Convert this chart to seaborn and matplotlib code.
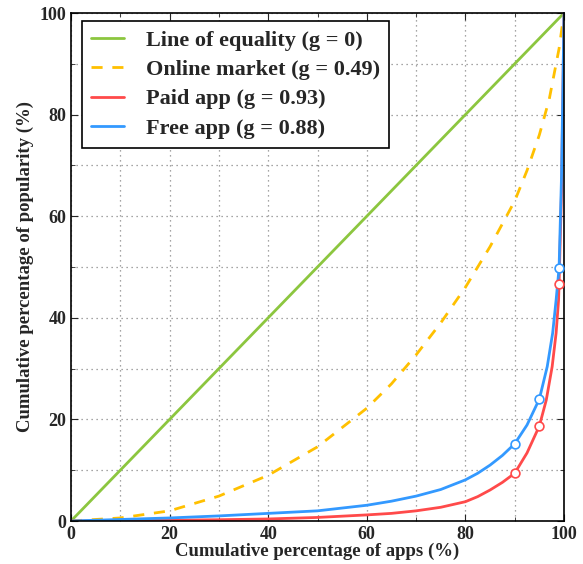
import matplotlib
matplotlib.use("Agg")
import matplotlib.pyplot as plt
import seaborn as sns
from matplotlib.ticker import MultipleLocator

# Data
equality_x = [0, 100]
equality_y = [0, 100]

online_x = [0, 10, 20, 30, 40, 50, 60, 65, 70, 75, 80, 85, 90, 92.5, 95, 97, 98, 99, 100]
online_y = [0, 0.6, 2.0, 4.9, 9.0, 14.6, 22.2, 27.0, 32.7, 39.0, 46.0, 54.0, 63.0, 69.0, 76.0, 83.0, 88.0, 93.0, 100]

paid_x = [0, 10, 20, 30, 40, 50, 60, 65, 70, 75, 80, 82.5, 85, 87.5, 90, 92.5, 95, 96.4, 97.6, 98.4, 98.9, 99, 99.5, 100]
paid_y = [0, 0.05, 0.15, 0.25, 0.4, 0.7, 1.2, 1.5, 2.0, 2.7, 3.8, 4.8, 6.1, 7.6, 9.4, 13.4, 18.7, 23.8, 30.4, 37.0, 43.5, 46.7, 65.0, 100]

free_x = [0, 10, 20, 30, 40, 50, 60, 65, 70, 75, 80, 82.5, 85, 87.5, 90, 92.5, 95, 96.6, 97.7, 98.4, 99, 99.5, 100]
free_y = [0, 0.3, 0.6, 1.0, 1.5, 2.0, 3.1, 3.9, 4.9, 6.2, 8.1, 9.4, 11.0, 12.9, 15.2, 18.9, 24.0, 30.4, 37.0, 43.5, 49.8, 68.0, 100]

marker_x = [90, 95, 99]
paid_marker_y = [9.4, 18.7, 46.7]
free_marker_y = [15.2, 24.0, 49.8]

labels = ["Line of equality (g = 0)", "Online market (g = 0.49)",
          "Paid app (g = 0.93)", "Free app (g = 0.88)"]
colors = ["#8cc63f", "#ffc000", "#ff4a4a", "#3399ff"]

sns.set_style("ticks")
plt.rcParams['font.family'] = ['Liberation Serif', 'DejaVu Serif']
plt.rcParams['font.weight'] = 'bold'

fig = plt.figure(figsize=(5.83, 5.64), dpi=100)
ax = fig.add_axes([71/583, 43/564, 493/583, 508/564])

sns.lineplot(x=equality_x, y=equality_y, ax=ax, color=colors[0], lw=2, label=labels[0])
sns.lineplot(x=online_x, y=online_y, ax=ax, color=colors[1], lw=2, label=labels[1])
ax.lines[-1].set_dashes([4, 3.5])
sns.lineplot(x=paid_x, y=paid_y, ax=ax, color=colors[2], lw=2, label=labels[2])
sns.lineplot(x=free_x, y=free_y, ax=ax, color=colors[3], lw=2, label=labels[3])
sns.scatterplot(x=marker_x, y=paid_marker_y, ax=ax, s=40, facecolor="white",
                edgecolor=colors[2], linewidth=1.2, zorder=5, legend=False)
sns.scatterplot(x=marker_x, y=free_marker_y, ax=ax, s=40, facecolor="white",
                edgecolor=colors[3], linewidth=1.2, zorder=5, legend=False)

ax.set_xlim(0, 100)
ax.set_ylim(0, 100)
ax.xaxis.set_major_locator(MultipleLocator(20))
ax.xaxis.set_minor_locator(MultipleLocator(10))
ax.yaxis.set_major_locator(MultipleLocator(20))
ax.yaxis.set_minor_locator(MultipleLocator(10))
ax.tick_params(which='both', direction='in', top=True, right=True)
ax.tick_params(which='major', length=5, labelsize=13)
ax.tick_params(which='minor', length=3)
for lab in ax.get_xticklabels() + ax.get_yticklabels():
    lab.set_fontweight('bold')
ax.grid(True, which='both', linestyle=(0, (1, 3)), color='#888888', lw=0.9)
for s in ax.spines.values():
    s.set_linewidth(1.2)
    s.set_color('black')

ax.set_xlabel("Cumulative percentage of apps (%)", fontsize=13.5, fontweight='bold', labelpad=0)
ax.set_ylabel("Cumulative percentage of popularity (%)", fontsize=13.5, fontweight='bold', labelpad=4)

leg = ax.legend(loc='upper left', bbox_to_anchor=(0.022, 0.984), borderaxespad=0,
                fancybox=False, framealpha=1, edgecolor='black',
                prop={'size': 16, 'weight': 'bold'},
                handlelength=1.5, handletextpad=1.0, borderpad=0.4, labelspacing=0.4)
leg.get_frame().set_linewidth(1.2)

fig.savefig("out.png", dpi=100)
